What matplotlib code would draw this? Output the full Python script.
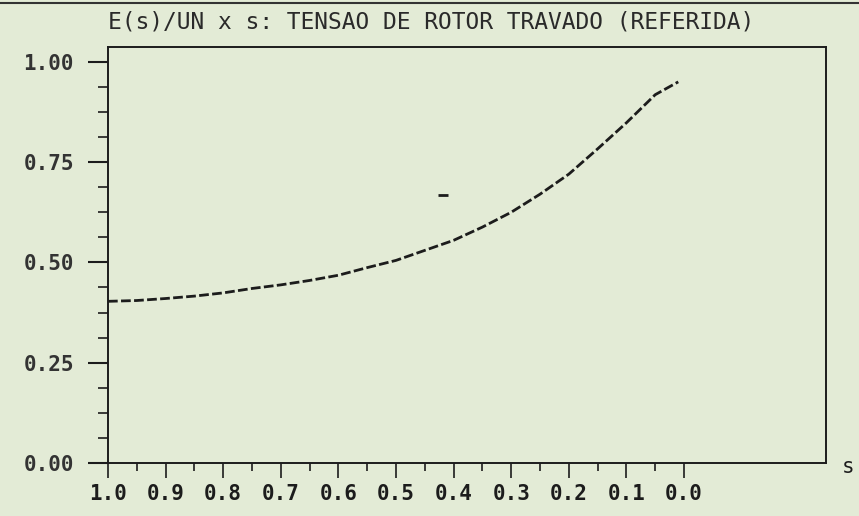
import matplotlib
matplotlib.use("agg")
import matplotlib.pyplot as plt
from matplotlib.lines import Line2D

# slip s (axis runs from 1.0 down to 0.0) and E(s)/UN
slip = [1.00, 0.95, 0.90, 0.85, 0.80, 0.75, 0.70, 0.65, 0.60, 0.55, 0.50,
        0.45, 0.40, 0.35, 0.30, 0.25, 0.20, 0.15, 0.10, 0.05, 0.01]
e_ratio = [0.403, 0.405, 0.410, 0.416, 0.424, 0.435, 0.444, 0.455, 0.468,
           0.487, 0.505, 0.530, 0.555, 0.588, 0.625, 0.670, 0.720, 0.783,
           0.848, 0.918, 0.950]

# stray printer mark near the curve
stray_s = [0.418]
stray_v = [0.667]

x_major = [1.0, 0.9, 0.8, 0.7, 0.6, 0.5, 0.4, 0.3, 0.2, 0.1, 0.0]
x_minor = [0.95, 0.85, 0.75, 0.65, 0.55, 0.45, 0.35, 0.25, 0.15, 0.05]
x_labels = ["1.0", "0.9", "0.8", "0.7", "0.6", "0.5", "0.4", "0.3", "0.2", "0.1", "0.0"]
y_major = [0.0, 0.25, 0.50, 0.75, 1.00]
y_minor = [0.0625, 0.125, 0.1875, 0.3125, 0.375, 0.4375,
           0.5625, 0.625, 0.6875, 0.8125, 0.875, 0.9375]
y_labels = ["0.00", "0.25", "0.50", "0.75", "1.00"]

title = "E(s)/UN x s: TENSAO DE ROTOR TRAVADO (REFERIDA)"

bg = "#e3ebd6"
ink = "#1c1c1c"
mono = "DejaVu Sans Mono"

fig = plt.figure(figsize=(8.59, 5.16), dpi=100, facecolor=bg)
ax = fig.add_axes([0.1257, 0.1027, 0.8359, 0.8063], facecolor=bg)

ax.plot(slip, e_ratio, color=ink, lw=2.0, linestyle=(0, (3.5, 1.2)))
ax.plot(stray_s, stray_v, linestyle="none", marker="_", ms=7, mew=2, color=ink)

ax.set_xlim(1.0, -0.2465)
ax.set_ylim(0.0, 1.037)

ax.set_xticks(x_major)
ax.set_xticklabels(x_labels)
ax.set_xticks(x_minor, minor=True)
ax.set_yticks(y_major)
ax.set_yticklabels(y_labels)
ax.set_yticks(y_minor, minor=True)

ax.tick_params(axis="x", which="major", length=11, width=1.2, color=ink, pad=4,
               labelsize=15, labelcolor=ink)
ax.tick_params(axis="x", which="minor", length=6, width=1.2, color=ink)
ax.tick_params(axis="y", which="major", length=14.5, width=1.5, color=ink, pad=10,
               labelsize=15, labelcolor="#333333")
ax.tick_params(axis="y", which="minor", length=7, width=1.2, color=ink)
for lab in ax.get_xticklabels() + ax.get_yticklabels():
    lab.set_fontfamily(mono)
    lab.set_fontweight("bold")

for sp in ax.spines.values():
    sp.set_color(ink)
    sp.set_linewidth(1.4)

fig.text(0.1257, 0.957, title, family=mono, fontsize=16.5, color="#2a2a2a",
         ha="left", va="center")
ax.text(1.022, -0.01, "s", transform=ax.transAxes, family=mono, fontsize=15,
        color=ink, ha="left", va="center")

# page edge from the scan
fig.add_artist(Line2D([0, 1], [0.995, 0.995], transform=fig.transFigure,
                      color="#333333", lw=1.5))

fig.savefig("out.png", dpi=100, facecolor=bg)
